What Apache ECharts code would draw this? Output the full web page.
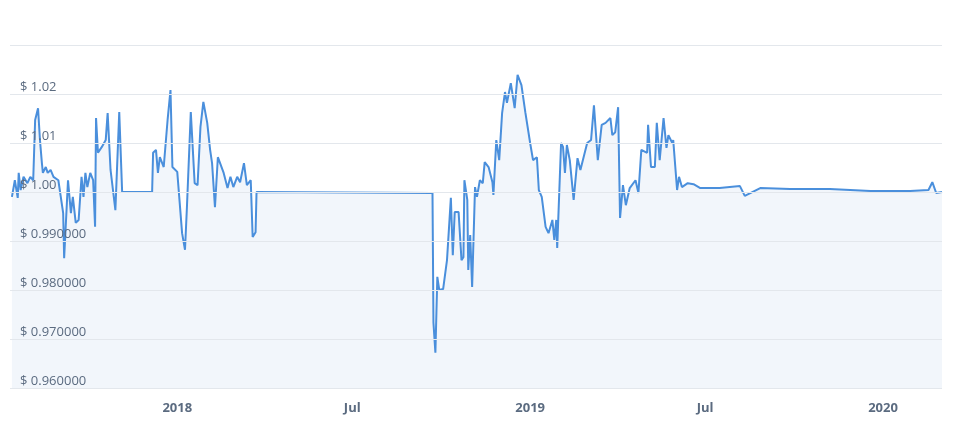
<!DOCTYPE html>
<html>
<head>
<meta charset="utf-8">
<script src="https://cdn.jsdelivr.net/npm/echarts@6/dist/echarts.min.js"></script>
<style>html,body{margin:0;padding:0;background:#fff}#chart{width:960px;height:436px}</style>
</head>
<body>
<div id="chart"></div>
<script>
// days offset from 2018-01-01 and price in USD
const dayOffsets = [-171,-168,-165,-164,-162,-159,-155,-152,-149,-147,-144,-142,-140,-139,-136,-134,-131,-128,-123,-118,-117,-113,-110,-108,-105,-102,-99,-97,-95,-93,-90,-87,-85,-84,-82,-78,-74,-72,-69,-64,-60,-57,-26,-25,-22,-20,-18,-14,-10,-7,-5,0,5,8,10,12,14,18,21,24,27,31,34,36,39,42,48,52,55,58,62,65,69,72,76,78,81,82,264,265,267,269,271,275,279,283,285,287,291,294,296,297,300,301,303,305,308,310,313,316,318,322,326,327,330,333,336,339,341,345,349,352,356,360,365,368,372,374,377,381,384,388,390,392,393,397,399,401,403,406,410,414,417,424,428,431,435,439,443,448,450,453,456,458,461,464,468,474,477,480,486,487,490,494,496,499,503,506,508,512,513,517,519,522,528,534,541,561,582,587,603,634,675,717,758,777,781,785,791];
const prices = [0.9990,1.0024,0.9988,1.0039,1.0004,1.0031,1.0018,1.0031,1.0024,1.0147,1.0171,1.0106,1.0059,1.0039,1.0051,1.0039,1.0045,1.0031,1.0024,0.9957,0.9865,1.0024,0.9957,0.9990,0.9937,0.9943,1.0031,0.9990,1.0039,1.0010,1.0039,1.0024,0.9929,1.0151,1.0080,1.0092,1.0106,1.0161,1.0045,0.9963,1.0163,1.0000,1.0000,1.0080,1.0086,1.0039,1.0071,1.0051,1.0147,1.0208,1.0051,1.0041,0.9916,0.9882,0.9969,0.9973,1.0163,1.0018,1.0014,1.0133,1.0184,1.0141,1.0086,1.0059,0.9969,1.0071,1.0039,1.0008,1.0031,1.0010,1.0031,1.0020,1.0059,1.0014,1.0024,0.9908,0.9918,1.0000,0.9998,0.9733,0.9672,0.9827,0.9800,0.9802,0.9861,0.9988,0.9871,0.9959,0.9959,0.9861,0.9867,1.0024,0.9984,0.9841,0.9912,0.9806,1.0010,0.9990,1.0024,1.0018,1.0061,1.0051,1.0020,0.9994,1.0106,1.0065,1.0161,1.0204,1.0182,1.0222,1.0171,1.0239,1.0218,1.0163,1.0100,1.0065,1.0071,1.0004,0.9990,0.9929,0.9916,0.9943,0.9902,0.9943,0.9886,1.0100,1.0092,1.0039,1.0096,1.0065,0.9984,1.0069,1.0045,1.0100,1.0106,1.0177,1.0065,1.0137,1.0141,1.0151,1.0116,1.0122,1.0173,0.9947,1.0014,0.9973,1.0008,1.0024,0.9998,1.0086,1.0080,1.0137,1.0051,1.0051,1.0141,1.0065,1.0151,1.0090,1.0116,1.0100,1.0106,1.0004,1.0031,1.0010,1.0018,1.0016,1.0008,1.0008,1.0012,0.9992,1.0008,1.0006,1.0006,1.0002,1.0002,1.0004,1.0020,0.9998,1.0000];
// tick positions in days from 2018-01-01
const tickDays = [0, 181, 365, 546, 730];
const tickLabels = ['2018','Jul','2019','Jul','2020'];

const seriesData = dayOffsets.map((d, i) => [d, prices[i]]);

const chart = echarts.init(document.getElementById('chart'));
chart.setOption({
  animation: false,
  grid: { left: 10, right: 18, top: 45, bottom: 48 },
  xAxis: {
    type: 'value',
    min: -173,
    max: 791,
    axisLine: { show: false },
    axisTick: { show: false },
    splitLine: { show: false },
    axisLabel: {
      customValues: tickDays,
      showMinLabel: true,
      showMaxLabel: true,
      color: '#5b6b80',
      fontWeight: 'bold',
      fontSize: 13,
      fontFamily: 'Open Sans',
      margin: 14,
      formatter: v => {
        const i = tickDays.indexOf(Math.round(v));
        return i >= 0 ? tickLabels[i] : '';
      }
    }
  },
  yAxis: {
    type: 'value',
    min: 0.96,
    max: 1.03,
    interval: 0.01,
    axisLine: { show: false },
    axisTick: { show: false },
    splitLine: { lineStyle: { color: '#e3e7ec', width: 1 } },
    axisLabel: {
      inside: true,
      verticalAlign: 'bottom',
      margin: 10,
      color: '#5b6b80',
      fontSize: 13,
      fontFamily: 'Open Sans',
      formatter: v => {
        if (v > 1.025) return '';
        return v >= 0.9999 ? '$ ' + v.toFixed(2) : '$ ' + v.toFixed(6);
      }
    },
    z: 5
  },
  series: [{
    type: 'line',
    data: seriesData,
    symbol: 'none',
    lineStyle: { color: '#4a8fdc', width: 2 },
    areaStyle: { color: '#ecf2fa', origin: 'start' }
  }]
});
</script>
</body>
</html>
